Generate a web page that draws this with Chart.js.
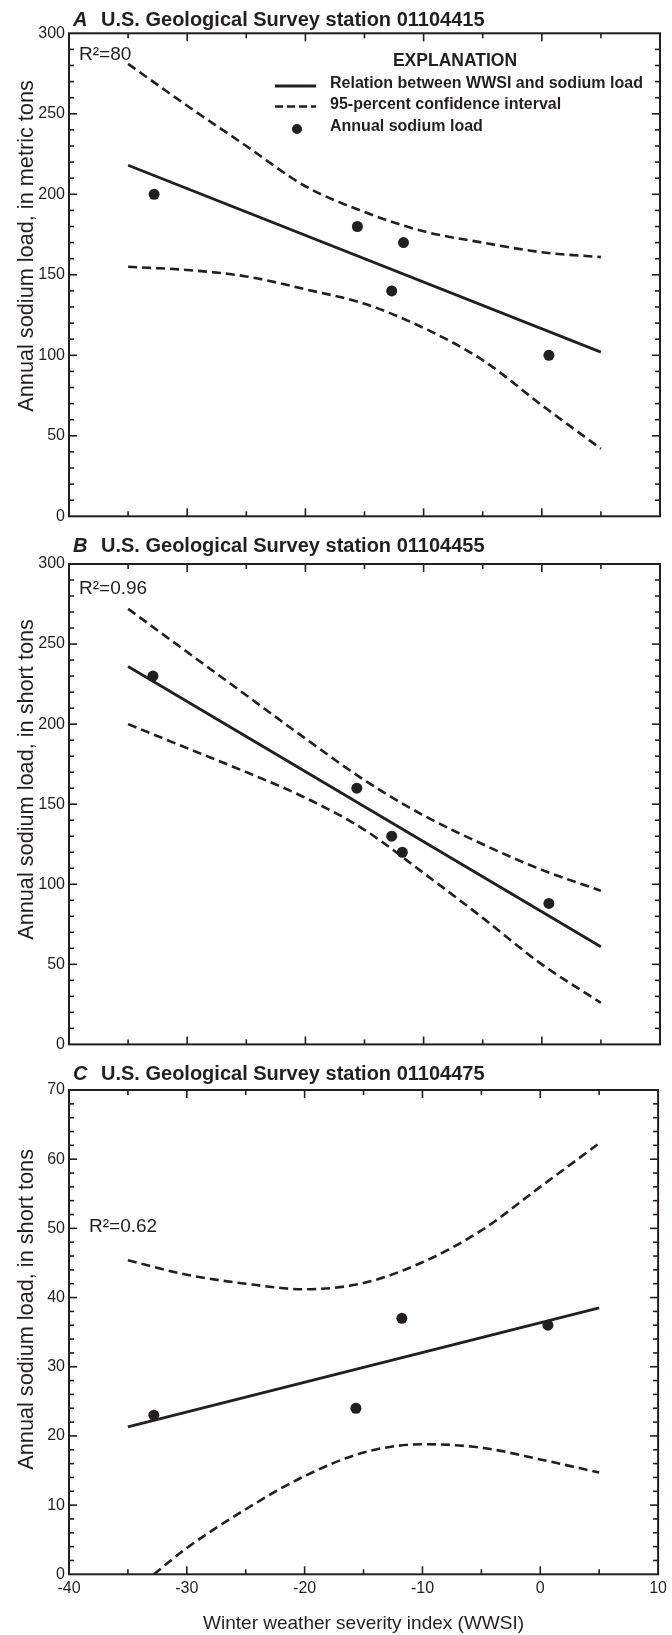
<!DOCTYPE html>
<html>
<head>
<meta charset="utf-8">
<script src="https://cdn.jsdelivr.net/npm/chart.js@4.4.1/dist/chart.umd.min.js"></script>
<style>
  html, body { margin: 0; padding: 0; background: #fff; }
  #wrap { position: relative; width: 672px; height: 1635px; overflow: hidden; }
  canvas { position: absolute; left: 0; }
</style>
</head>
<body>
<div id="wrap">
  <canvas id="pa" width="672" height="530" style="top:0px"></canvas>
  <canvas id="pb" width="672" height="528" style="top:530px"></canvas>
  <canvas id="pc" width="672" height="577" style="top:1058px"></canvas>
</div>
<script>
/* Sodium load vs. winter weather severity index, three USGS stations. */
var INK = '#231f20';
var FONT = '"Liberation Sans", Arial, sans-serif';

// shared x positions of the confidence-band readings and the fit line ends
var curveX = [-35, -30, -25, -20, -15, -10, -5, 0, 5];
var fitX = [-35, 5];
var xTicks = [-35, -30, -25, -20, -15, -10, -5, 0, 5];

// --- panel A, station 01104415 (metric tons) ---
var aPointX = [-32.8, -15.6, -11.7, -12.7, 0.6];
var aPointY = [200, 180, 170, 140, 100];
var aFitY = [218, 102];
var aUpper = [281, 255, 230, 205, 189, 177, 170, 164, 161];
var aLower = [155, 153, 149, 141, 132, 117, 97, 69, 42];
var aYTicks = [10, 20, 30, 40, 50, 60, 70, 80, 90, 100, 110, 120, 130, 140, 150, 160, 170, 180, 190, 200, 210, 220, 230, 240, 250, 260, 270, 280, 290];

// --- panel B, station 01104455 (short tons) ---
var bPointX = [-32.9, -15.65, -12.7, -11.8, 0.6];
var bPointY = [230, 160, 130, 120, 88];
var bFitY = [236, 61];
var bUpper = [272, 245, 218, 191, 165, 143, 125, 109, 96];
var bLower = [200, 185, 170, 154, 134, 107, 79, 50, 26];
var bYTicks = aYTicks;

// --- panel C, station 01104475 (short tons) ---
var cPointX = [-32.8, -15.65, -11.75, 0.65];
var cPointY = [23, 24, 37, 36];
var cFitY = [21.3, 38.5];
var cUpper = [45.4, 43.3, 42, 41.2, 42.1, 45.1, 49.7, 56, 62.3];
var cLowerX = [-32.8, -30, -25, -20, -15, -10, -5, 0, 5];
var cLower = [0, 3.8, 9.4, 14.2, 17.6, 18.8, 18.3, 16.6, 14.7];
var cYTicks = [2, 4, 6, 8, 10, 12, 14, 16, 18, 20, 22, 24, 26, 28, 30, 32, 34, 36, 38, 40, 42, 44, 46, 48, 50, 52, 54, 56, 58, 60, 62, 64, 66, 68];

var legendLabels = ['Relation between WWSI and sodium load', '95-percent confidence interval', 'Annual sodium load'];

function xy(xs, ys) {
  return ys.map(function (v, i) { return { x: xs[i], y: v }; });
}

function strokeLine(ctx, x1, y1, x2, y2) {
  ctx.beginPath(); ctx.moveTo(x1, y1); ctx.lineTo(x2, y2); ctx.stroke();
}

// frame, inward ticks, panel title, axis title, R² note and the explanation box
var decor = {
  id: 'decor',
  afterDraw: function (c, args, o) {
    var ctx = c.ctx, a = c.chartArea, x = c.scales.x, y = c.scales.y;
    ctx.save();
    ctx.strokeStyle = INK; ctx.fillStyle = INK;
    ctx.lineWidth = 1.6;
    xTicks.forEach(function (v) {
      var px = x.getPixelForValue(v), len = v % 10 === 0 ? 8 : 5;
      strokeLine(ctx, px, a.bottom, px, a.bottom - len);
      strokeLine(ctx, px, a.top, px, a.top + len);
    });
    o.yTicks.forEach(function (v) {
      var py = y.getPixelForValue(v), len = v % o.yMajor === 0 ? 8 : 5;
      strokeLine(ctx, a.left, py, a.left + len, py);
      strokeLine(ctx, a.right, py, a.right - len, py);
    });
    ctx.lineWidth = 2;
    ctx.strokeRect(a.left, a.top, a.right - a.left, a.bottom - a.top);

    ctx.textBaseline = 'middle'; ctx.textAlign = 'left';
    ctx.font = 'italic bold 20px ' + FONT;
    ctx.fillText(o.letter, a.left + 4, o.titleY);
    ctx.font = 'bold 20px ' + FONT;
    ctx.fillText(o.title, a.left + 32, o.titleY);

    ctx.font = '19px ' + FONT;
    ctx.fillText(o.r2, o.r2x, o.r2y);

    // y title starts a fixed distance above the plot floor, reads upward
    ctx.save();
    ctx.translate(33, a.bottom - 104.6);
    ctx.rotate(-Math.PI / 2);
    ctx.textBaseline = 'alphabetic';
    ctx.font = '21.7px ' + FONT;
    ctx.fillText(o.yTitle, 0, 0);
    ctx.restore();

    if (o.legend) {
      ctx.font = 'bold 17.5px ' + FONT;
      ctx.textAlign = 'center';
      ctx.fillText('EXPLANATION', 455, 61);
      ctx.textAlign = 'left';
      ctx.font = 'bold 16px ' + FONT;
      ctx.lineWidth = 2.8;
      strokeLine(ctx, 275, 86, 316, 86);
      ctx.fillText(legendLabels[0], 330, 84);
      ctx.lineWidth = 2.6; ctx.setLineDash([8, 4]);
      strokeLine(ctx, 275, 106.5, 316, 106.5);
      ctx.setLineDash([]);
      ctx.fillText(legendLabels[1], 330, 105);
      ctx.beginPath(); ctx.arc(297, 129, 5, 0, Math.PI * 2); ctx.fill();
      ctx.fillText(legendLabels[2], 330, 127);
    }
    ctx.restore();
  }
};

function makePanel(id, p) {
  var datasets = [
    { data: xy(p.lowerX || curveX, p.lower), borderColor: INK, borderWidth: 2.6, borderDash: [9, 5],
      pointRadius: 0, cubicInterpolationMode: 'monotone', fill: false },
    { data: xy(curveX, p.upper), borderColor: INK, borderWidth: 2.6, borderDash: [9, 5],
      pointRadius: 0, cubicInterpolationMode: 'monotone', fill: false },
    { data: xy(fitX, p.fit), borderColor: INK, borderWidth: 2.8, pointRadius: 0, fill: false },
    { type: 'scatter', data: xy(p.px, p.py), backgroundColor: INK, borderColor: INK,
      pointRadius: 5.5, borderWidth: 0, showLine: false }
  ];
  var xScale = {
    type: 'linear', min: -40, max: 10, display: !!p.xLabels,
    grid: { display: false, drawTicks: false }, border: { display: false },
    ticks: { stepSize: 10, color: INK, padding: 5, font: { family: FONT, size: 16 } },
    title: { display: !!p.xLabels, text: 'Winter weather severity index (WWSI)', color: INK,
      font: { family: FONT, size: 19, lineHeight: 1.2 }, padding: { top: 0, bottom: 0 } },
    afterFit: function (s) { s.height = p.xHeight || 0; }
  };
  p.decor.yTitle = p.yTitle;
  return new Chart(document.getElementById(id), {
    type: 'line',
    data: { datasets: datasets },
    plugins: [decor],
    options: {
      responsive: false, animation: false, devicePixelRatio: 1,
      layout: { padding: { top: p.padTop, bottom: p.padBottom, left: 0, right: 12 } },
      plugins: {
        legend: { display: false }, tooltip: { enabled: false },
        decor: p.decor
      },
      scales: {
        x: xScale,
        y: {
          type: 'linear', min: 0, max: p.yMax,
          grid: { display: false, drawTicks: false }, border: { display: false },
          ticks: { stepSize: p.yStep, color: INK, padding: 4, font: { family: FONT, size: 16 } },
          afterFit: function (s) { s.width = 69; }
        }
      }
    }
  });
}

makePanel('pa', {
  px: aPointX, py: aPointY, fit: aFitY, upper: aUpper, lower: aLower,
  yMax: 300, yStep: 50, yTitle: 'Annual sodium load, in metric tons',
  padTop: 33.3, padBottom: 13.7,
  decor: { letter: 'A', title: 'U.S. Geological Survey station 01104415', titleY: 20,
    r2: 'R²=80', r2x: 79, r2y: 55, legend: true, yTicks: aYTicks, yMajor: 50 }
});

makePanel('pb', {
  px: bPointX, py: bPointY, fit: bFitY, upper: bUpper, lower: bLower,
  yMax: 300, yStep: 50, yTitle: 'Annual sodium load, in short tons',
  padTop: 34, padBottom: 11.3,
  decor: { letter: 'B', title: 'U.S. Geological Survey station 01104455', titleY: 16.7,
    r2: 'R²=0.96', r2x: 79, r2y: 58.3, legend: false, yTicks: bYTicks, yMajor: 50 }
});

makePanel('pc', {
  px: cPointX, py: cPointY, fit: cFitY, upper: cUpper, lower: cLower, lowerX: cLowerX,
  yMax: 70, yStep: 10, yTitle: 'Annual sodium load, in short tons',
  padTop: 32, padBottom: 0, xLabels: true, xHeight: 60.7,
  decor: { letter: 'C', title: 'U.S. Geological Survey station 01104475', titleY: 16,
    r2: 'R²=0.62', r2x: 89, r2y: 168.7, legend: false, yTicks: cYTicks, yMajor: 10 }
});
</script>
</body>
</html>
